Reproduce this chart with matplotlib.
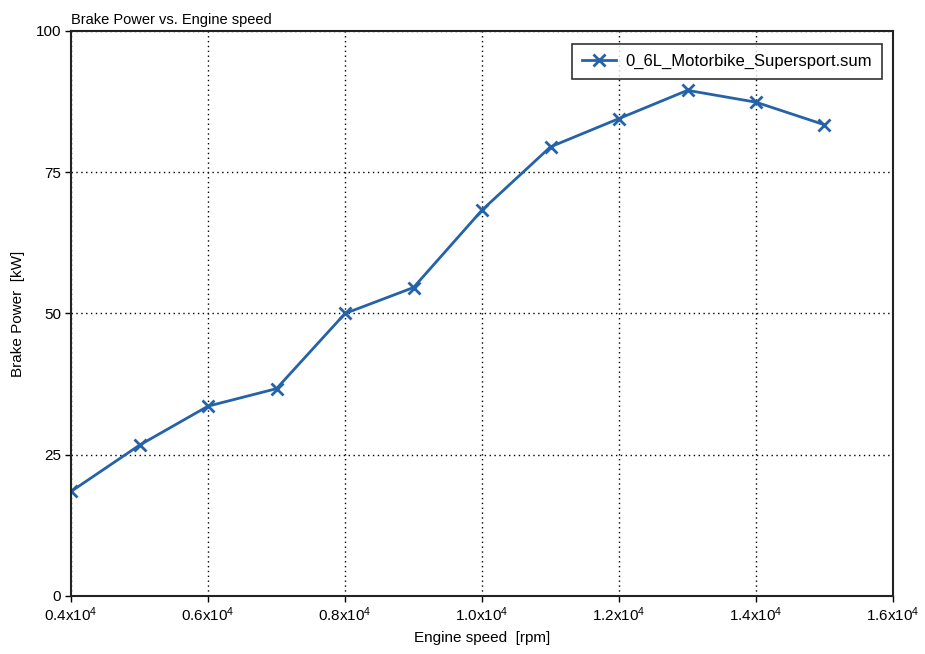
import matplotlib
matplotlib.use("Agg")
import matplotlib.pyplot as plt
from matplotlib.ticker import FixedLocator, FixedFormatter

plt.rcParams['font.family'] = ['Liberation Sans', 'DejaVu Sans']
plt.rcParams['mathtext.fontset'] = 'custom'
plt.rcParams['mathtext.rm'] = 'Liberation Sans'
plt.rcParams['mathtext.it'] = 'Liberation Sans'
plt.rcParams['mathtext.bf'] = 'Liberation Sans'

# Engine speed sweep and brake power
engine_speed = [4000, 5000, 6000, 7000, 8000, 9000, 10000, 11000, 12000, 13000, 14000, 15000]
brake_power = [18.5, 26.7, 33.6, 36.7, 50.0, 54.6, 68.3, 79.5, 84.5, 89.5, 87.4, 83.4]

x_ticks = [4000, 6000, 8000, 10000, 12000, 14000, 16000]
x_tick_labels = [r'0.4x10$^{4}$', r'0.6x10$^{4}$', r'0.8x10$^{4}$', r'1.0x10$^{4}$',
                 r'1.2x10$^{4}$', r'1.4x10$^{4}$', r'1.6x10$^{4}$']
y_ticks = [0, 25, 50, 75, 100]
y_tick_labels = ['0', '25', '50', '75', '100']

series_name = '0_6L_Motorbike_Supersport.sum'

fig = plt.figure(figsize=(9.25, 6.54), dpi=100)
ax = fig.add_axes([0.0768, 0.0887, 0.8886, 0.8639])

ax.plot(engine_speed, brake_power, color='#2463a8', linewidth=2.0,
        marker='x', markersize=8, markeredgewidth=2.0, label=series_name)

ax.set_xlim(4000, 16000)
ax.set_ylim(0, 100)
ax.xaxis.set_major_locator(FixedLocator(x_ticks))
ax.xaxis.set_major_formatter(FixedFormatter(x_tick_labels))
ax.yaxis.set_major_locator(FixedLocator(y_ticks))
ax.yaxis.set_major_formatter(FixedFormatter(y_tick_labels))

ax.grid(True, color='black', linestyle=(0, (1, 2.5)), linewidth=1.0)
ax.tick_params(direction='out', length=4, width=1, labelsize=11, colors='black', pad=3)
for s in ax.spines.values():
    s.set_color('#222222')
    s.set_linewidth(1.5)

ax.set_xlabel('Engine speed  [rpm]', fontsize=11, labelpad=5)
ax.set_ylabel('Brake Power  [kW]', fontsize=11, labelpad=8)
ax.set_title('Brake Power vs. Engine speed', fontsize=10.5, loc='left', pad=5)

leg = ax.legend(loc='upper right', bbox_to_anchor=(0.987, 0.977), fontsize=12,
                frameon=True, fancybox=False, borderpad=0.6, handlelength=2.0,
                handletextpad=0.6, borderaxespad=0)
leg.get_frame().set_edgecolor('black')
leg.get_frame().set_linewidth(1.2)

fig.savefig('out.png', dpi=100)
